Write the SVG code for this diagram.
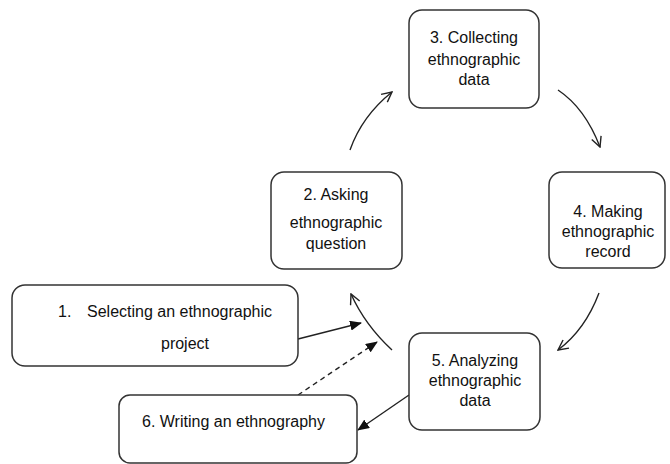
<svg xmlns="http://www.w3.org/2000/svg" width="670" height="464" viewBox="0 0 670 464">
<defs>
<style>
.box{fill:#fff;stroke:#333;stroke-width:1.5}
.t{font-family:"Liberation Sans",Arial,sans-serif;font-size:16px;fill:#111;text-anchor:middle}
.c{fill:none;stroke:#222;stroke-width:1.4}
.o{marker-end:url(#open)}
.f{marker-end:url(#fill)}
</style>
<marker id="open" viewBox="0 0 12 12" refX="11" refY="6" markerWidth="12" markerHeight="12" markerUnits="userSpaceOnUse" orient="auto">
<path d="M1,1 L11,6 L1,11" fill="none" stroke="#222" stroke-width="1.4"/>
</marker>
<marker id="fill" viewBox="0 0 12 10" refX="11" refY="5" markerWidth="12" markerHeight="10" markerUnits="userSpaceOnUse" orient="auto">
<path d="M0,0 L12,5 L0,10 Z" fill="#111"/>
</marker>
</defs>
<rect width="670" height="464" fill="#fff"/>
<g id="connectors">
<path class="c o" d="M350,150 Q362,116 392,92"/>
<path class="c o" d="M558,90 Q585,108 600,147"/>
<path class="c o" d="M599,293 Q585,330 558,350"/>
<path class="c o" d="M392,350 Q365,325 351,294"/>
<path class="c f" d="M298,339 L361,323"/>
<path class="c f" d="M298,395 L377,342" stroke-dasharray="5,4"/>
<path class="c f" d="M409,395 L358,430"/>
</g>
<g id="node1">
<rect class="box" x="12" y="285" width="286" height="81" rx="13"/>
<text class="t" x="58" y="317" style="text-anchor:start">1.</text>
<text class="t" x="87" y="317" style="text-anchor:start">Selecting an ethnographic</text>
<text class="t" x="185" y="349">project</text>
</g>
<g id="node2">
<rect class="box" x="271" y="172" width="131" height="97" rx="13"/>
<text class="t" x="336" y="200">2. Asking</text>
<text class="t" x="336" y="228">ethnographic</text>
<text class="t" x="336" y="249">question</text>
</g>
<g id="node3">
<rect class="box" x="409" y="10" width="130" height="98" rx="13"/>
<text class="t" x="474" y="43">3. Collecting</text>
<text class="t" x="474" y="65">ethnographic</text>
<text class="t" x="474" y="85">data</text>
</g>
<g id="node4">
<rect class="box" x="549" y="172" width="116" height="96" rx="13"/>
<text class="t" x="608" y="217">4. Making</text>
<text class="t" x="608" y="237">ethnographic</text>
<text class="t" x="608" y="257">record</text>
</g>
<g id="node5">
<rect class="box" x="409" y="333" width="131" height="97" rx="13"/>
<text class="t" x="475" y="366">5. Analyzing</text>
<text class="t" x="475" y="386">ethnographic</text>
<text class="t" x="475" y="406">data</text>
</g>
<g id="node6">
<rect class="box" x="119" y="395" width="238" height="68" rx="11"/>
<text class="t" x="142" y="427" style="text-anchor:start">6. Writing an ethnography</text>
</g>
</svg>
